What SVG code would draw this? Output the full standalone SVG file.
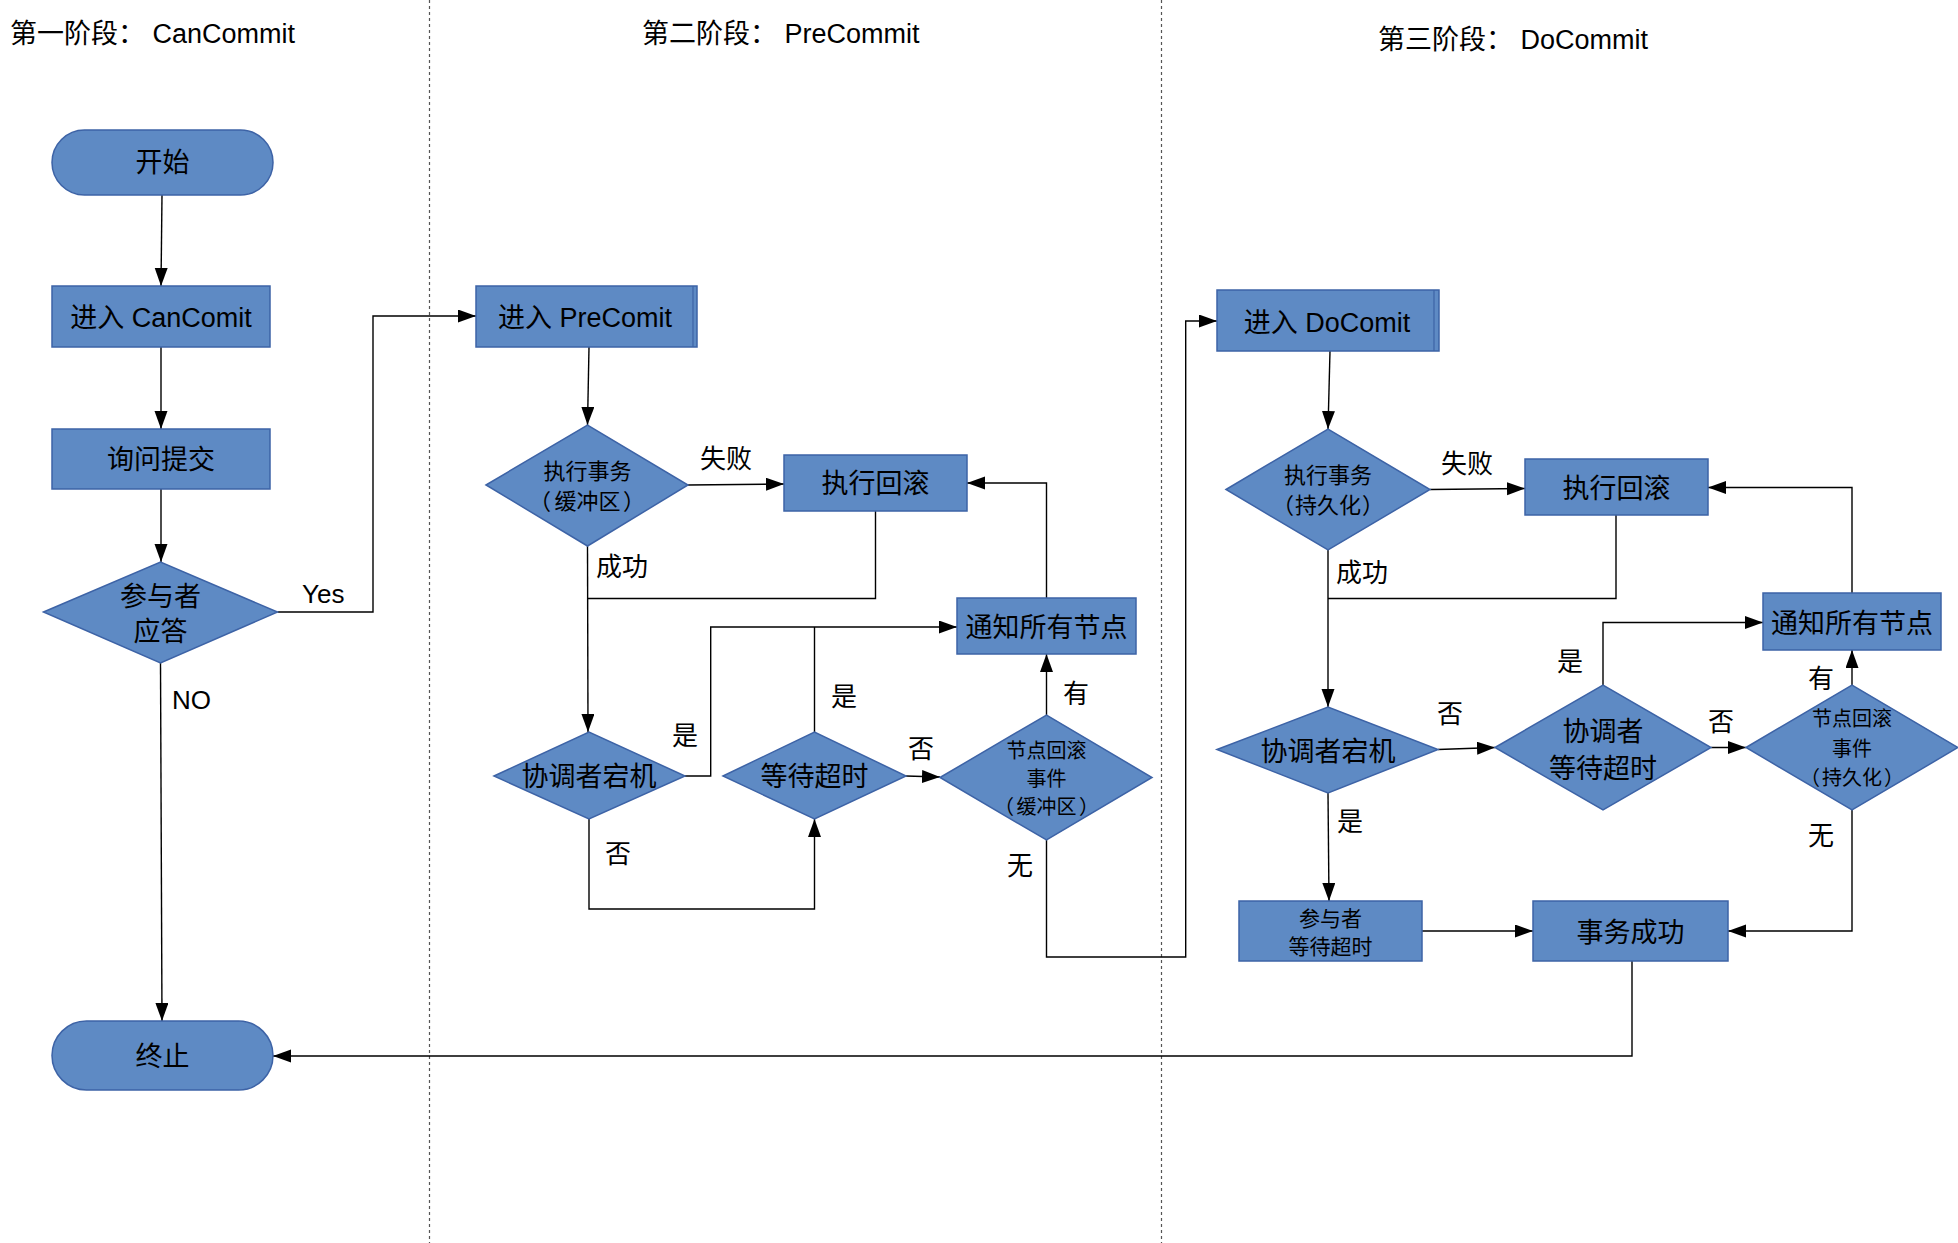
<svg xmlns="http://www.w3.org/2000/svg" width="1958" height="1243" viewBox="0 0 1958 1243">
<defs>
<marker id="arr" markerUnits="userSpaceOnUse" markerWidth="20" markerHeight="14" refX="18" refY="6.5" orient="auto">
<path d="M0,0 L18,6.5 L0,13 z" fill="#000"/>
</marker>
<style>
.n{fill:#5e8ac4;stroke:#3d63a6;stroke-width:1.5}
.t{font-family:"Liberation Sans","Noto Sans CJK SC",sans-serif;fill:#000;text-anchor:middle}
.l{font-family:"Liberation Sans","Noto Sans CJK SC",sans-serif;fill:#000;font-size:26px}
.c{fill:none;stroke:#000;stroke-width:1.4}
.a{marker-end:url(#arr)}
.d{stroke:#555;stroke-width:1.2;stroke-dasharray:3 3;fill:none}
</style>
</defs>
<rect width="1958" height="1243" fill="#fff"/>

<g id="dividers">
<line class="d" x1="429.5" y1="0" x2="429.5" y2="1243"/>
<line class="d" x1="1161.5" y1="0" x2="1161.5" y2="1243"/>
</g>

<g id="titles">
<text class="l" x="10" y="43" style="font-size:27px">第一阶段： CanCommit</text>
<text class="l" x="642" y="43" style="font-size:27px">第二阶段： PreCommit</text>
<text class="l" x="1378" y="49" style="font-size:27px">第三阶段： DoCommit</text>
</g>

<g id="connectors">
<path class="c a" d="M162,195 L161,286"/>
<path class="c a" d="M161,347 L161,429"/>
<path class="c a" d="M161,489 L161,562"/>
<path class="c a" d="M277.5,612 H373 V316 H476"/>
<path class="c a" d="M160.5,663 L162,1021"/>
<path class="c a" d="M589,347 L587.5,425"/>
<path class="c a" d="M688,485 L784,484"/>
<path class="c a" d="M587.5,546 L588,732"/>
<path class="c" d="M875.5,511 V598.5 H588"/>
<path class="c a" d="M685,776 H710.7 V627 H957"/>
<path class="c" d="M814.5,732 V627"/>
<path class="c a" d="M589,819 V909 H814.5 V819"/>
<path class="c a" d="M906,776 L940,777"/>
<path class="c a" d="M1046.5,715 V654"/>
<path class="c a" d="M1046.5,598 V483 H967"/>
<path class="c a" d="M1046.5,840 V957 H1185.7 V321 H1217"/>
<path class="c a" d="M1330,351 L1328,429"/>
<path class="c a" d="M1430,489.5 L1525,488.5"/>
<path class="c a" d="M1328,550 V707"/>
<path class="c" d="M1616,515 V598.5 H1328"/>
<path class="c a" d="M1438,749.5 L1495,747.5"/>
<path class="c a" d="M1603,685 V622.5 H1763"/>
<path class="c a" d="M1711,747.5 H1746"/>
<path class="c a" d="M1852,685 V650"/>
<path class="c a" d="M1852,593 V487.5 H1708"/>
<path class="c a" d="M1852,810 V931 H1728"/>
<path class="c a" d="M1328,793 L1329,901"/>
<path class="c a" d="M1422,931 H1533"/>
<path class="c a" d="M1632,961 V1056 H273"/>
</g>

<g id="labels">
<text class="l" x="302" y="603">Yes</text>
<text class="l" x="172" y="709">NO</text>
<text class="l" x="700" y="468">失败</text>
<text class="l" x="596" y="576">成功</text>
<text class="l" x="672" y="745">是</text>
<text class="l" x="831" y="706">是</text>
<text class="l" x="605" y="863">否</text>
<text class="l" x="908" y="758">否</text>
<text class="l" x="1063" y="703">有</text>
<text class="l" x="1007" y="875">无</text>
<text class="l" x="1441" y="473">失败</text>
<text class="l" x="1336" y="582">成功</text>
<text class="l" x="1437" y="723">否</text>
<text class="l" x="1557" y="671">是</text>
<text class="l" x="1337" y="831">是</text>
<text class="l" x="1708" y="731">否</text>
<text class="l" x="1808" y="688">有</text>
<text class="l" x="1808" y="845">无</text>
</g>

<g id="start">
<rect class="n" x="52" y="130" width="221" height="65" rx="32.5"/>
<text class="t" x="162.5" y="172" font-size="27">开始</text>
</g>
<g id="enter-cancommit">
<rect class="n" x="52" y="286" width="218" height="61"/>
<text class="t" x="161" y="327" font-size="27">进入 CanComit</text>
</g>
<g id="ask-commit">
<rect class="n" x="52" y="429" width="218" height="60"/>
<text class="t" x="161" y="469" font-size="27">询问提交</text>
</g>
<g id="participant-reply">
<polygon class="n" points="43.5,612 160.5,562 277.5,612 160.5,663"/>
<text class="t" x="160.5" y="606" font-size="27">参与者</text>
<text class="t" x="160.5" y="641" font-size="27">应答</text>
</g>
<g id="end">
<rect class="n" x="52" y="1021" width="221" height="69" rx="34.5"/>
<text class="t" x="162.5" y="1066" font-size="27">终止</text>
</g>

<g id="enter-precommit">
<rect class="n" x="476" y="286" width="221" height="61"/>
<line x1="693" y1="286" x2="693" y2="347" stroke="#3d63a6" stroke-width="1.2"/>
<text class="t" x="585" y="327" font-size="27">进入 PreComit</text>
</g>
<g id="exec-tx-buffer">
<polygon class="n" points="486,485 587.5,425 688,485 587.5,546"/>
<text class="t" x="587.5" y="479" font-size="22">执行事务</text>
<text class="t" y="509" font-size="22"><tspan x="540">（</tspan><tspan x="587.5">缓冲区</tspan><tspan x="634">）</tspan></text>
</g>
<g id="rollback-1">
<rect class="n" x="784" y="455" width="183" height="56"/>
<text class="t" x="875.5" y="493" font-size="27">执行回滚</text>
</g>
<g id="coord-down-1">
<polygon class="n" points="494,776 589,732 685,776 589,819"/>
<text class="t" x="589" y="786" font-size="27">协调者宕机</text>
</g>
<g id="wait-timeout-1">
<polygon class="n" points="723,776 814.5,732 906,776 814.5,819"/>
<text class="t" x="814.5" y="786" font-size="27">等待超时</text>
</g>
<g id="notify-1">
<rect class="n" x="957" y="598" width="179" height="56"/>
<text class="t" x="1046.5" y="637" font-size="27">通知所有节点</text>
</g>
<g id="rollback-event-1">
<polygon class="n" points="940,777.5 1046.5,715 1152,777.5 1046.5,840"/>
<text class="t" x="1046.5" y="758" font-size="20">节点回滚</text>
<text class="t" x="1046.5" y="786" font-size="20">事件</text>
<text class="t" y="814" font-size="20"><tspan x="1004">（</tspan><tspan x="1046.5">缓冲区</tspan><tspan x="1089">）</tspan></text>
</g>

<g id="enter-docommit">
<rect class="n" x="1217" y="290" width="222" height="61"/>
<line x1="1434" y1="290" x2="1434" y2="351" stroke="#3d63a6" stroke-width="1.2"/>
<text class="t" x="1327" y="332" font-size="27">进入 DoComit</text>
</g>
<g id="exec-tx-persist">
<polygon class="n" points="1226,489.5 1328,429 1430,489.5 1328,550"/>
<text class="t" x="1328" y="483" font-size="22">执行事务</text>
<text class="t" y="513" font-size="22"><tspan x="1283">（</tspan><tspan x="1328">持久化</tspan><tspan x="1373">）</tspan></text>
</g>
<g id="rollback-2">
<rect class="n" x="1525" y="459" width="183" height="56"/>
<text class="t" x="1616.5" y="498" font-size="27">执行回滚</text>
</g>
<g id="notify-2">
<rect class="n" x="1763" y="593" width="178" height="57"/>
<text class="t" x="1852" y="633" font-size="27">通知所有节点</text>
</g>
<g id="coord-down-2">
<polygon class="n" points="1217,749.5 1328,707 1438,749.5 1328,793"/>
<text class="t" x="1328" y="761" font-size="27">协调者宕机</text>
</g>
<g id="coord-wait-timeout">
<polygon class="n" points="1495,747.5 1603,685 1711,747.5 1603,810"/>
<text class="t" x="1603" y="741" font-size="27">协调者</text>
<text class="t" x="1603" y="778" font-size="27">等待超时</text>
</g>
<g id="rollback-event-2">
<polygon class="n" points="1746,747.5 1852,685 1958,747.5 1852,810"/>
<text class="t" x="1852" y="726" font-size="20">节点回滚</text>
<text class="t" x="1852" y="756" font-size="20">事件</text>
<text class="t" y="785" font-size="20"><tspan x="1810">（</tspan><tspan x="1852">持久化</tspan><tspan x="1894">）</tspan></text>
</g>
<g id="participant-wait">
<rect class="n" x="1239" y="901" width="183" height="60"/>
<text class="t" x="1330.5" y="926" font-size="21">参与者</text>
<text class="t" x="1330.5" y="954" font-size="21">等待超时</text>
</g>
<g id="tx-success">
<rect class="n" x="1533" y="901" width="195" height="60"/>
<text class="t" x="1630.5" y="942" font-size="27">事务成功</text>
</g>
</svg>
